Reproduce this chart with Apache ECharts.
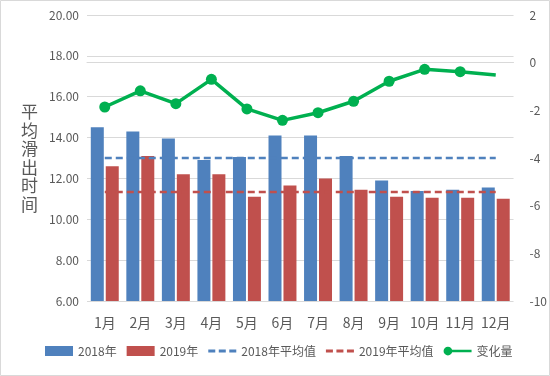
<!DOCTYPE html>
<html>
<head>
<meta charset="utf-8">
<script src="https://cdn.jsdelivr.net/npm/echarts@6/dist/echarts.min.js"></script>
<style>
  html, body { margin: 0; padding: 0; background: #fff; }
  #chart { width: 550px; height: 376px; }
</style>
</head>
<body>
<div id="chart"></div>
<script>
// 数据
var months = ['1月', '2月', '3月', '4月', '5月', '6月', '7月', '8月', '9月', '10月', '11月', '12月'];
var y2018 = [14.5, 14.3, 13.95, 12.9, 13.05, 14.1, 14.1, 13.1, 11.9, 11.38, 11.45, 11.55];
var y2019 = [12.6, 13.1, 12.2, 12.2, 11.1, 11.65, 12.0, 11.45, 11.1, 11.05, 11.05, 11.0];
var avg2018 = [13.0, 13.0, 13.0, 13.0, 13.0, 13.0, 13.0, 13.0, 13.0, 13.0, 13.0, 13.0];
var avg2019 = [11.33, 11.33, 11.33, 11.33, 11.33, 11.33, 11.33, 11.33, 11.33, 11.33, 11.33, 11.33];
var change = [-1.86, -1.18, -1.72, -0.7, -1.94, -2.42, -2.1, -1.62, -0.78, -0.28, -0.38, -0.52];
var leftTicks = { min: 6, max: 20, interval: 2 };
var rightTicks = { min: -10, max: 2, interval: 2 };

var font = '"Noto Sans CJK SC", "Noto Sans", sans-serif';
var chart = echarts.init(document.getElementById('chart'));

// 最后一个点不画圆点
var changeData = change.map(function (v, i) {
    return i === change.length - 1 ? { value: v, symbol: 'none' } : v;
});

// 图例图标
var dashIcon = 'path://M0,3.5L7,3.5L7,6.5L0,6.5ZM10.5,3.5L17.5,3.5L17.5,6.5L10.5,6.5ZM21,3.5L28,3.5L28,6.5L21,6.5Z';
var dotLineIcon = 'path://M0,5A5,5 0 1,1 10,5A5,5 0 1,1 0,5ZM8,3.5L32,3.5L32,6.5L8,6.5Z';

var option = {
    animation: false,
    textStyle: { fontFamily: font },
    graphic: [{
        type: 'rect',
        shape: { x: 0.5, y: 0.5, width: 549, height: 375 },
        style: { fill: 'none', stroke: '#d9d9d9', lineWidth: 1 },
        silent: true
    }],
    grid: { left: 87, right: 35, top: 15, bottom: 75 },
    legend: {
        top: 340,
        left: 40,
        itemWidth: 28,
        itemHeight: 10,
        itemGap: 10,
        textStyle: { fontSize: 12, color: '#595959', fontFamily: font },
        data: [
            { name: '2018年', icon: 'rect' },
            { name: '2019年', icon: 'rect' },
            { name: '2018年平均值', icon: dashIcon },
            { name: '2019年平均值', icon: dashIcon },
            { name: '变化量', icon: dotLineIcon }
        ]
    },
    xAxis: {
        type: 'category',
        data: months,
        axisLine: { show: true, lineStyle: { color: '#d9d9d9' } },
        axisTick: { show: false },
        axisLabel: { fontSize: 14, color: '#595959', margin: 15, interval: 0 }
    },
    yAxis: [{
        type: 'value',
        min: leftTicks.min,
        max: leftTicks.max,
        interval: leftTicks.interval,
        name: '平\n均\n滑\n出\n时\n间',
        nameLocation: 'middle',
        nameRotate: 0,
        nameGap: 49,
        nameTextStyle: { fontSize: 17, lineHeight: 18.5, color: '#595959' },
        axisLine: { show: false },
        axisTick: { show: false },
        axisLabel: {
            fontSize: 12, color: '#595959', margin: 8,
            formatter: function (v) { return v.toFixed(2); }
        },
        splitLine: { lineStyle: { color: '#d9d9d9' } }
    }, {
        type: 'value',
        min: rightTicks.min,
        max: rightTicks.max,
        interval: rightTicks.interval,
        axisLine: { show: false },
        axisTick: { show: false },
        axisLabel: { fontSize: 12, color: '#595959', margin: 16 },
        splitLine: { show: false }
    }],
    series: [{
        name: '2018年',
        type: 'bar',
        data: y2018,
        barWidth: 13,
        barGap: '15%',
        itemStyle: { color: '#4F81BD' }
    }, {
        name: '2019年',
        type: 'bar',
        data: y2019,
        barWidth: 13,
        barGap: '15%',
        itemStyle: { color: '#C0504D' }
    }, {
        name: '2018年平均值',
        type: 'line',
        data: avg2018,
        symbol: 'none',
        z: 3,
        itemStyle: { color: '#4F81BD' },
        lineStyle: { color: '#4F81BD', width: 2.5, type: [7, 4] }
    }, {
        name: '2019年平均值',
        type: 'line',
        data: avg2019,
        symbol: 'none',
        z: 3,
        itemStyle: { color: '#C0504D' },
        lineStyle: { color: '#C0504D', width: 2.5, type: [7, 4] }
    }, {
        name: '变化量',
        type: 'line',
        yAxisIndex: 1,
        data: changeData,
        symbol: 'circle',
        symbolSize: 11,
        z: 4,
        itemStyle: { color: '#00B050' },
        lineStyle: { color: '#00B050', width: 3.5 }
    }]
};

chart.setOption(option);
</script>
</body>
</html>
